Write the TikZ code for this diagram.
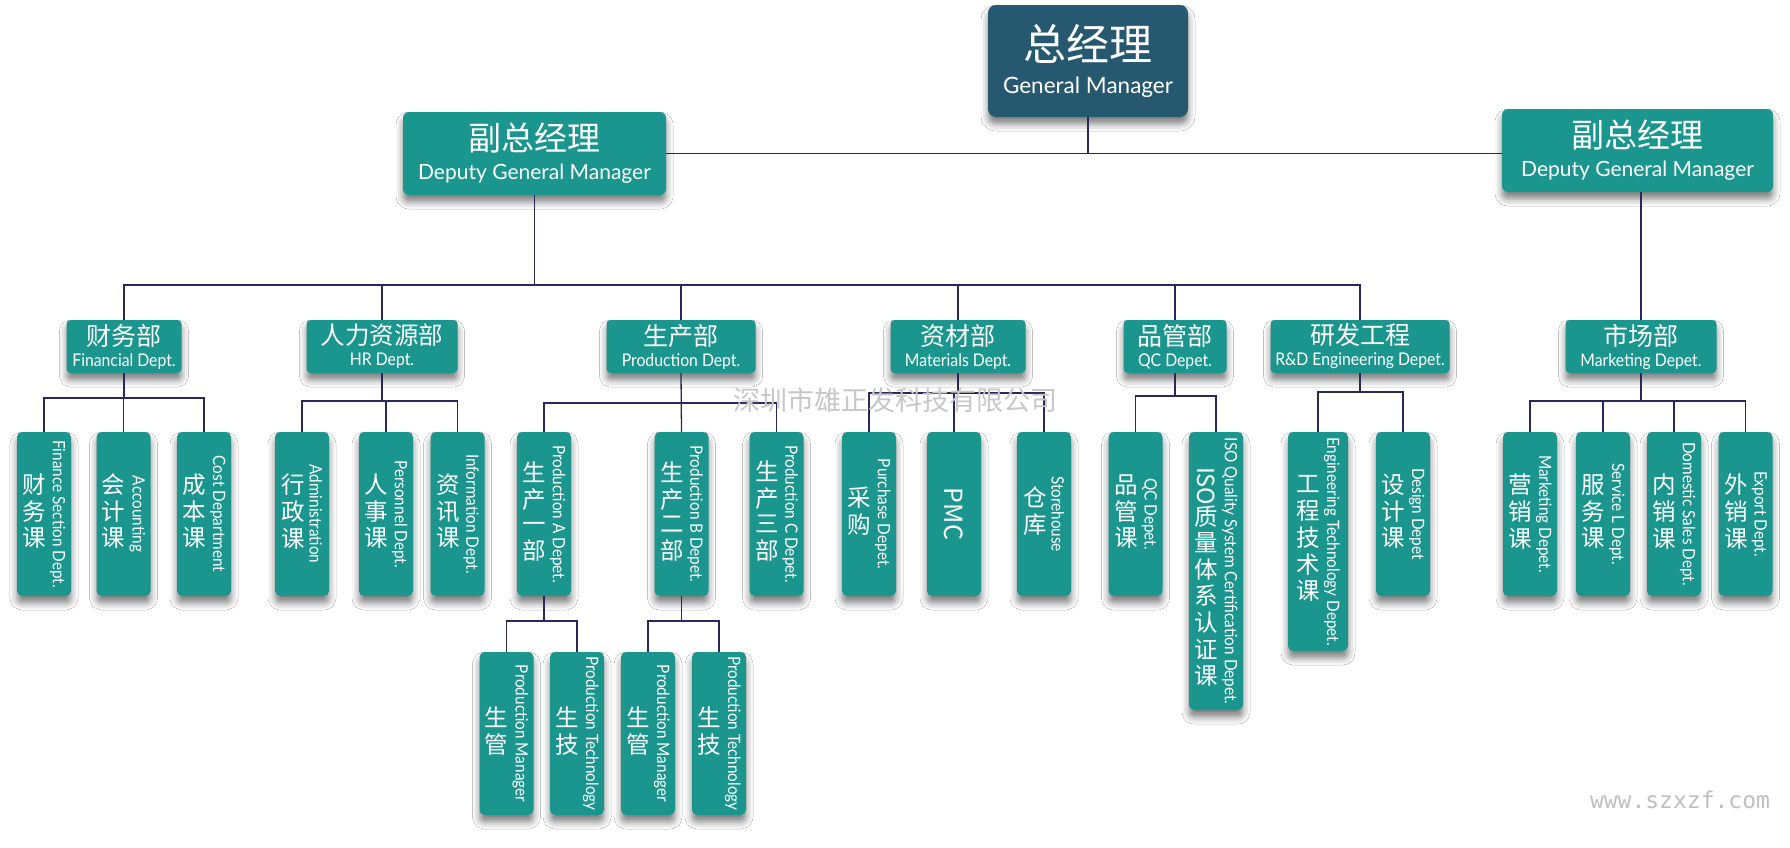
\documentclass[tikz,border=0pt]{standalone}
\usepackage{fontspec}
\setmainfont{Lato}
\newfontfamily\cjk{Noto Sans CJK SC}
\newfontfamily\engfont[FakeStretch=0.9]{Lato}
\newfontfamily\webfont{DejaVu Sans Mono}
\usepackage{graphicx}
\usepackage{xcolor}
\usetikzlibrary{calc, shadows.blur}

\definecolor{bossblue}{RGB}{38,89,112}
\definecolor{deptteal}{RGB}{26,150,142}
\definecolor{linkblue}{RGB}{40,40,90}

% vertical text for the small boxes
\newcommand\vmid[1]{$\vcenter{\hbox{#1}}$}
\newcommand\cjkcol[1]{{\cjk\fontsize{23.5}{24}\selectfont\begin{tabular}{@{}c@{}}#1\end{tabular}}}
\newcommand\engcol[1]{\rotatebox{-90}{\engfont\fontsize{17}{18}\selectfont #1}}
\newcommand\subtext[2]{\vmid{\cjkcol{#1}}\hspace{4pt}\vmid{\engcol{#2}}}

\begin{document}
\begin{tikzpicture}[x=1pt, y=-1pt,
    link/.style={draw=linkblue, line width=1.3pt},
    boxshadow/.style={blur shadow={shadow xshift=0pt, shadow yshift=-7pt, shadow blur radius=7pt, shadow opacity=50}},
    boss/.style={fill=bossblue, text=white, rounded corners=8pt, inner sep=0pt, align=center, boxshadow,
                 minimum width=200pt, minimum height=112pt, font=\fontsize{22.5}{33}\selectfont},
    deputy/.style={fill=deptteal, text=white, rounded corners=6pt, inner sep=0pt, align=center, boxshadow,
                 minimum height=83pt, font=\fontsize{21}{29}\selectfont},
    dept/.style={fill=deptteal, text=white, rounded corners=4pt, inner sep=0pt, align=center, boxshadow,
                 minimum height=53pt, font=\engfont\fontsize{17.5}{21}\selectfont},
    sub/.style={fill=deptteal, text=white, rounded corners=5pt, inner sep=0pt, boxshadow,
                 minimum width=54pt, minimum height=164pt}]

    % =================================================================
    % 1. CANVAS
    % =================================================================
    \useasboundingbox (0,0) rectangle (1790,847);
    \fill[white] (0,0) rectangle (1790,847);

    % =================================================================
    % 2. MANAGERS
    % =================================================================
    \node[boss] (gm) at (1088,61)
        {{\cjk\fontsize{43}{43}\selectfont 总经理}\\General Manager};
    \node[deputy, minimum width=263pt] (dgmL) at (534.5,153.5)
        {{\cjk\fontsize{33}{33}\selectfont 副总经理}\\Deputy General Manager};
    \node[deputy, minimum width=271pt] (dgmR) at (1637.5,150.5)
        {{\cjk\fontsize{33}{33}\selectfont 副总经理}\\Deputy General Manager};

    % =================================================================
    % 3. DEPARTMENTS
    % =================================================================
    \node[dept, minimum width=115pt] (fin)  at (124,346.5)  {{\cjk\fontsize{25}{25}\selectfont 财务部}\\Financial Dept.};
    \node[dept, minimum width=151pt] (hr)   at (382,346.5)  {{\cjk\fontsize{24.5}{25}\selectfont 人力资源部}\\HR Dept.};
    \node[dept, minimum width=149pt] (prod) at (681,346.5)  {{\cjk\fontsize{25}{25}\selectfont 生产部}\\Production Dept.};
    \node[dept, minimum width=135pt] (mat)  at (958,346.5)  {{\cjk\fontsize{25}{25}\selectfont 资材部}\\Materials Dept.};
    \node[dept, minimum width=103pt] (qc)   at (1175,346.5) {{\cjk\fontsize{25}{25}\selectfont 品管部}\\QC Depet.};
    \node[dept, minimum width=179pt] (rd)   at (1360,346.5) {{\cjk\fontsize{25}{25}\selectfont 研发工程}\\R\&D Engineering Depet.};
    \node[dept, minimum width=151pt] (mkt)  at (1641,346.5) {{\cjk\fontsize{25}{25}\selectfont 市场部}\\Marketing Depet.};

    % =================================================================
    % 4. SECTIONS
    % =================================================================
    \node[sub] (finA) at (44,514)    {\subtext{财\\务\\课}{Finance Section Dept.}};
    \node[sub] (finB) at (123.5,514) {\subtext{会\\计\\课}{Accounting}};
    \node[sub] (finC) at (204,514)   {\subtext{成\\本\\课}{Cost Department}};

    \node[sub] (hrA) at (302,514)    {\subtext{行\\政\\课}{Administration}};
    \node[sub] (hrB) at (386,514)    {\subtext{人\\事\\课}{Personnel Dept.}};
    \node[sub] (hrC) at (457.5,514)  {\subtext{资\\讯\\课}{Information Dept.}};

    \node[sub] (prA) at (544,514)    {\subtext{生\\产\\一\\部}{Production A Depet.}};
    \node[sub] (prB) at (681.5,514)  {\subtext{生\\产\\二\\部}{Production B Depet.}};
    \node[sub] (prC) at (776.5,514)  {\subtext{生\\产\\三\\部}{Production C Depet.}};

    \node[sub] (matA) at (869,514)   {\subtext{采\\购}{Purchase Depet.}};
    \node[sub] (matB) at (954,514)   {\vmid{\rotatebox{-90}{\cjk\fontsize{25}{25}\selectfont PMC}}};
    \node[sub] (matC) at (1044,514)  {\subtext{仓\\库}{Storehouse}};

    \node[sub] (qcA) at (1135.5,514) {\subtext{品\\管\\课}{QC Depet.}};
    \node[sub, minimum height=278pt] (qcB) at (1216,571)
        {\subtext{\rotatebox{-90}{ISO}\\质\\量\\体\\系\\认\\证\\课}{ISO Quality System Certification Depet.}};

    \node[sub, minimum width=60pt, minimum height=219pt] (rdA) at (1318,541.5)
        {\subtext{工\\程\\技\\术\\课}{Engineering Technology Depet.}};
    \node[sub] (rdB) at (1403,514)   {\subtext{设\\计\\课}{Design Depet}};

    \node[sub] (mkA) at (1530,514)   {\subtext{营\\销\\课}{Marketing Depet.}};
    \node[sub] (mkB) at (1603,514)   {\subtext{服\\务\\课}{Service L Dept.}};
    \node[sub] (mkC) at (1674,514)   {\subtext{内\\销\\课}{Domestic Sales Dept.}};
    \node[sub] (mkD) at (1745.5,514) {\subtext{外\\销\\课}{Export Dept.}};

    % production teams
    \node[sub, minimum height=163pt] (pA1) at (506.5,733.5) {\subtext{生\\管}{Production Manager}};
    \node[sub, minimum height=163pt] (pA2) at (577,733.5)   {\subtext{生\\技}{Production Technology}};
    \node[sub, minimum height=163pt] (pB1) at (648,733.5)   {\subtext{生\\管}{Production Manager}};
    \node[sub, minimum height=163pt] (pB2) at (719,733.5)   {\subtext{生\\技}{Production Technology}};

    % =================================================================
    % 5. CONNECTORS
    % =================================================================
    \coordinate (busTop)  at (0,285);
    \coordinate (busFin)  at (0,398);
    \coordinate (busHr)   at (0,401);
    \coordinate (busProd) at (0,403);
    \coordinate (busMat)  at (0,393);
    \coordinate (busQc)   at (0,396);
    \coordinate (busRd)   at (0,392);
    \coordinate (busMkt)  at (0,401);
    \coordinate (busTeam) at (0,621);

    \draw[link] (gm.south) -- (gm.south |- dgmL.east);
    \draw[link] (dgmL.east) -- (dgmR.west |- dgmL.east);

    \draw[link] (dgmL.south) -- (dgmL.south |- busTop);
    \draw[link] (fin.north) |- (rd.north |- busTop) -- (rd.north);
    \draw[link] (hr.north) -- (hr.north |- busTop);
    \draw[link] (prod.north) -- (prod.north |- busTop);
    \draw[link] (mat.north) -- (mat.north |- busTop);
    \draw[link] (qc.north) -- (qc.north |- busTop);
    \draw[link] (mkt.north |- dgmR.south) -- (mkt.north);

    \draw[link] (fin.south) -- (fin.south |- busFin);
    \draw[link] (finA.north) |- (finC.north |- busFin) -- (finC.north);
    \draw[link] (finB.north) -- (finB.north |- busFin);

    \draw[link] (hr.south) -- (hr.south |- busHr);
    \draw[link] (hrA.north) |- (hrC.north |- busHr) -- (hrC.north);
    \draw[link] (hrB.north) -- (hrB.north |- busHr);

    \draw[link] (prod.south) -- (prB.north);
    \draw[link] (prA.north) |- (prC.north |- busProd) -- (prC.north);

    \draw[link] (mat.south) -- (mat.south |- busMat);
    \draw[link] (matA.north) |- (matC.north |- busMat) -- (matC.north);
    \draw[link] (matB.north) -- (matB.north |- busMat);

    \draw[link] (qc.south) -- (qc.south |- busQc);
    \draw[link] (qcA.north) |- (qcB.north |- busQc) -- (qcB.north);

    \draw[link] (rd.south) -- (rd.south |- busRd);
    \draw[link] (rdA.north) |- (rdB.north |- busRd) -- (rdB.north);

    \draw[link] (mkt.south) -- (mkt.south |- busMkt);
    \draw[link] (mkA.north) |- (mkD.north |- busMkt) -- (mkD.north);
    \draw[link] (mkB.north) -- (mkB.north |- busMkt);
    \draw[link] (mkC.north) -- (mkC.north |- busMkt);

    \draw[link] (prA.south) -- (prA.south |- busTeam);
    \draw[link] (pA1.north) |- (pA2.north |- busTeam) -- (pA2.north);
    \draw[link] (prB.south) -- (prB.south |- busTeam);
    \draw[link] (pB1.north) |- (pB2.north |- busTeam) -- (pB2.north);

    % =================================================================
    % 6. WATERMARKS
    % =================================================================
    \node[text=black!22] (markCn) at (895,400) {\cjk\fontsize{27}{27}\selectfont 深圳市雄正发科技有限公司};
    \node[text=black!25] (markWeb) at (1680,800) {\webfont\fontsize{23}{23}\selectfont www.szxzf.com};

\end{tikzpicture}
\end{document}
